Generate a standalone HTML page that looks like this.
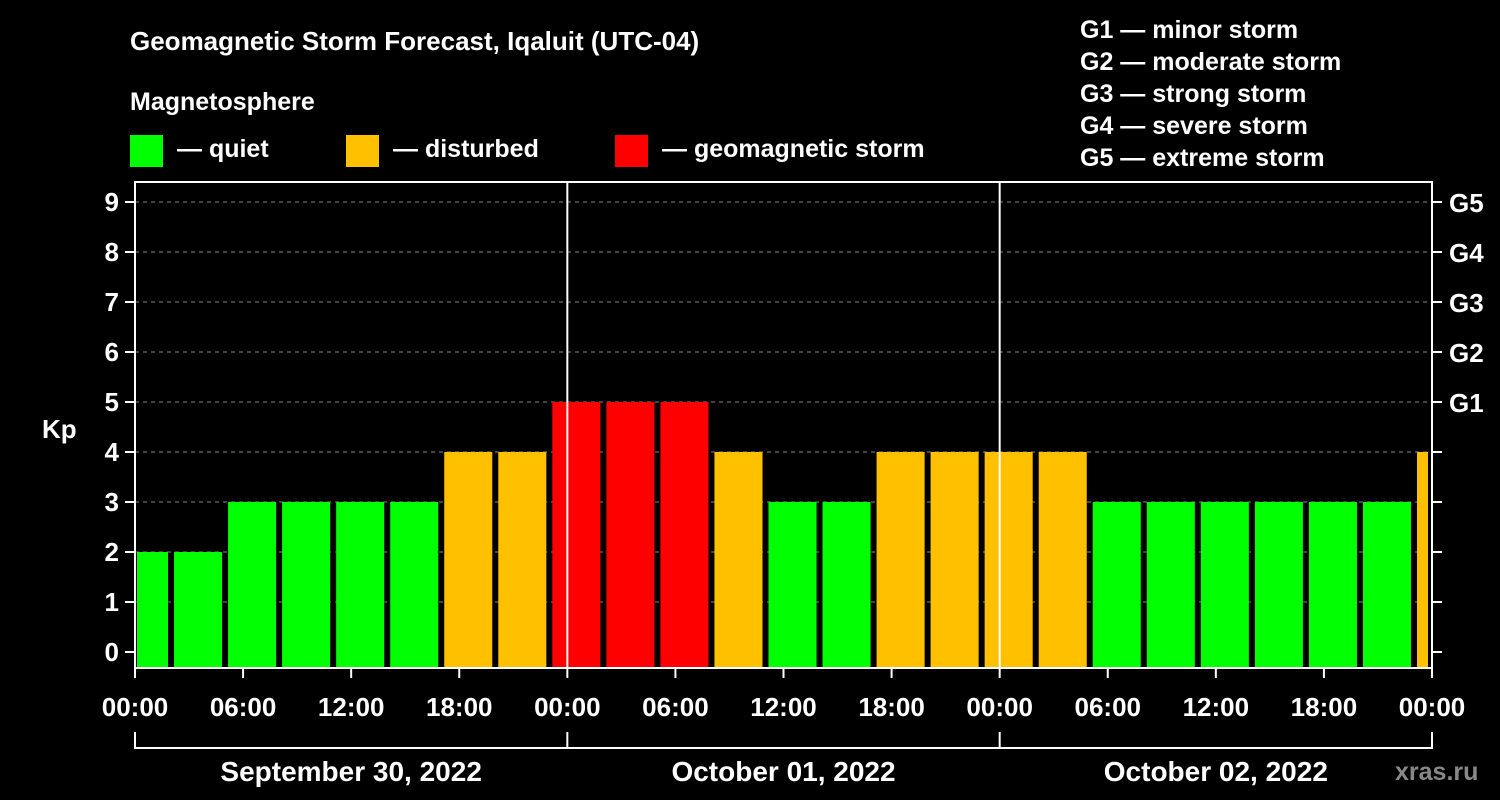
<!DOCTYPE html>
<html><head><meta charset="utf-8"><style>
html,body{margin:0;padding:0;background:#000;width:1500px;height:800px;overflow:hidden}
svg text{font-family:"Liberation Sans",sans-serif;font-weight:bold;fill:#fff}
</style></head><body>
<svg id="c" width="1500" height="800" viewBox="0 0 1500 800" xmlns="http://www.w3.org/2000/svg">
<rect width="1500" height="800" fill="#000"/>
<text x="130" y="50" font-size="26">Geomagnetic Storm Forecast, Iqaluit (UTC-04)</text>
<text x="130" y="110" font-size="25">Magnetosphere</text>
<rect x="130" y="135" width="33" height="32" fill="#00ff00"/>
<text x="177" y="157" font-size="25">— quiet</text>
<rect x="346" y="135" width="33" height="32" fill="#ffc000"/>
<text x="393" y="157" font-size="25">— disturbed</text>
<rect x="615" y="135" width="33" height="32" fill="#ff0000"/>
<text x="662" y="157" font-size="25">— geomagnetic storm</text>
<g font-size="25">
<text x="1080" y="38">G1 — minor storm</text>
<text x="1080" y="70">G2 — moderate storm</text>
<text x="1080" y="102">G3 — strong storm</text>
<text x="1080" y="134">G4 — severe storm</text>
<text x="1080" y="166">G5 — extreme storm</text>
</g>
<text x="42" y="438" font-size="26">Kp</text>
<text x="1395" y="780" font-size="25" fill="#888" style="fill:#888">xras.ru</text>
<g id="grid"></g><g id="bars"></g><g id="axes"></g>
</svg>
<script>
const kpValues=[2,2,3,3,3,3,4,4,5,5,5,4,3,3,4,4,4,4,3,3,3,3,3,3,4];
const startHours=[-1,2,5,8,11,14,17,20,23,26,29,32,35,38,41,44,47,50,53,56,59,62,65,68,71];
const yTicks=[0,1,2,3,4,5,6,7,8,9];
const gLabels=["G1","G2","G3","G4","G5"];
const timeLabels=["00:00","06:00","12:00","18:00","00:00","06:00","12:00","18:00","00:00","06:00","12:00","18:00","00:00"];
const dayLabels=["September 30, 2022","October 01, 2022","October 02, 2022"];
const NS="http://www.w3.org/2000/svg";
const X0=135,X1=1432,TOP=182,BOT=668;
const x=h=>X0+h*(X1-X0)/72;
const y=k=>652-50*k;
function el(t,a,p){const e=document.createElementNS(NS,t);for(const k in a)e.setAttribute(k,a[k]);p.appendChild(e);return e;}
const grid=document.getElementById('grid'),bars=document.getElementById('bars'),axes=document.getElementById('axes');
yTicks.forEach(k=>{if(k>0){const l=el('line',{x1:X0,x2:X1,y1:y(k),y2:y(k),stroke:'#888','stroke-dasharray':'4,4','stroke-width':1},grid);

}
const t=el('line',{x1:X0-10,x2:X0,y1:y(k),y2:y(k),stroke:'#fff','stroke-width':2},axes);


const t2=el('line',{x1:X1,x2:X1+10,y1:y(k),y2:y(k),stroke:'#fff','stroke-width':2},axes);


const lb=el('text',{x:X0-16,y:y(k)+9,'font-size':26,'text-anchor':'end'},axes);lb.textContent=k;

});
gLabels.forEach((g,i)=>{const t=el('text',{x:1449,y:y(i+5)+10,'font-size':26},axes);t.textContent=g;

});
kpValues.forEach((k,i)=>{const s=Math.max(x(startHours[i])+3,X0+2),e=Math.min(x(startHours[i]+3)-3,X1-4);
const c=k>=5?'#ff0000':k>=4?'#ffc000':'#00ff00';
const r=el('rect',{x:s,y:y(k),width:e-s,height:BOT-y(k),fill:c},bars);

});
[24,48].forEach(h=>{const l=el('line',{x1:x(h),x2:x(h),y1:TOP,y2:BOT,stroke:'#fff','stroke-width':2},axes);

});
const fr=el('rect',{x:X0,y:TOP,width:X1-X0,height:BOT-TOP,fill:'none',stroke:'#fff','stroke-width':2},axes);


timeLabels.forEach((s,i)=>{const h=i*6;
const t=el('line',{x1:x(h),x2:x(h),y1:BOT,y2:BOT+10,stroke:'#fff','stroke-width':2},axes);


const lb=el('text',{x:x(h),y:716,'font-size':26,'text-anchor':'middle'},axes);lb.textContent=s;

});
const br=el('line',{x1:X0,x2:X1,y1:748,y2:748,stroke:'#fff','stroke-width':2},axes);


[0,24,48,72].forEach(h=>{const v=el('line',{x1:x(h),x2:x(h),y1:732,y2:749,stroke:'#fff','stroke-width':2},axes);

});
dayLabels.forEach((d,i)=>{const t=el('text',{x:x(i*24+12),y:781,'font-size':28,'text-anchor':'middle'},axes);t.textContent=d;

});
</script>
</body></html>
